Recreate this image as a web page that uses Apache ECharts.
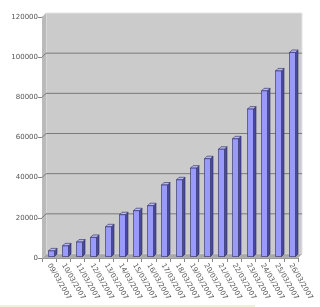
<!DOCTYPE html>
<html><head><meta charset="utf-8">
<script src="https://cdn.jsdelivr.net/npm/echarts@6/dist/echarts.min.js"></script>
<style>html,body{margin:0;padding:0;background:#fff}#c{width:320px;height:307px}</style>
</head><body><div id="c"></div>
<script>
const categories = ['09/03/2007','10/03/2007','11/03/2007','12/03/2007','13/03/2007','14/03/2007','15/03/2007','16/03/2007','17/03/2007','18/03/2007','19/03/2007','20/03/2007','21/03/2007','22/03/2007','23/03/2007','24/03/2007','25/03/2007','26/03/2007'];
const values = [2800, 5300, 7200, 9500, 14800, 20800, 22800, 25300, 35600, 38200, 44000, 48700, 53400, 58600, 73400, 82500, 92400, 101600];
const yTicks = [0, 20000, 40000, 60000, 80000, 100000, 120000];

const D = 4; // depth offset (px)
const chart = echarts.init(document.getElementById('c'), null, {renderer:'canvas'});
const font = 'DejaVu Sans';

function wallsRender(params, api) {
  const cs = params.coordSys;
  const x0 = cs.x, x1 = cs.x + cs.width, y0 = cs.y, y1 = cs.y + cs.height;
  const ch = [];
  ch.push({type:'polygon', shape:{points:[[x0+D,y0-D],[x1+D,y0-D],[x1+D,y1-D],[x0+D,y1-D]]}, style:{fill:'#cbcbcb', stroke:'#e4e4e4', lineWidth:1}});
  ch.push({type:'polygon', shape:{points:[[x0,y0],[x0+D,y0-D],[x0+D,y1-D],[x0,y1]]}, style:{fill:'#bababa'}});
  ch.push({type:'polygon', shape:{points:[[x0,y1],[x0+D,y1-D],[x1+D,y1-D],[x1,y1]]}, style:{fill:'#a8a8a8', stroke:'#c8c8c8', lineWidth:0.5}});
  yTicks.forEach(v => {
    if (v === 0 || v === 120000) return;
    const y = api.coord([0, v])[1];
    ch.push({type:'polyline', shape:{points:[[x0,y],[x0+D,y-D],[x1+D,y-D]]}, style:{stroke:'#7a7a7a', lineWidth:1, fill:null}});
  });
  return {type:'group', children:ch};
}

function barRender(params, api) {
  const idx = api.value(0), val = api.value(1);
  const top = api.coord([idx, val]);
  const base = api.coord([idx, 0]);
  const cx = top[0] + 1.5, sh = D/2;
  const t = top[1] - sh + 0.5, b = base[1] - sh + 0.5;
  const hw = 3, dd = 2.5;
  const l = Math.round(cx - hw) + 0.5, r = l + 2*hw;
  return {type:'group', children:[
    {type:'polygon', shape:{points:[[r,t],[r+dd,t-dd],[r+dd,b-dd],[r,b]]}, style:{fill:'#4a4a9a', stroke:'#2a2a60', lineWidth:0.6}},
    {type:'polygon', shape:{points:[[l,t],[l+dd,t-dd],[r+dd,t-dd],[r,t]]}, style:{fill:'#b8b8f0', stroke:'#2a2a60', lineWidth:0.6}},
    {type:'rect', shape:{x:l, y:t, width:r-l, height:b-t}, style:{fill:'#9a9afa', stroke:'#2a2a60', lineWidth:0.6}}
  ]};
}

chart.setOption({
  animation:false,
  backgroundColor:'#fff',
  grid:{left:42, right:22, top:17, bottom:49, containLabel:false},
  xAxis:{type:'category', data:categories, boundaryGap:true,
    axisLine:{show:true, lineStyle:{color:'#888', width:1}},
    axisTick:{show:true, length:4, lineStyle:{color:'#888'}},
    axisLabel:{interval:0, rotate:-60, fontSize:7, fontFamily:font, color:'#555', margin:6},
    splitLine:{show:false}},
  yAxis:{type:'value', min:0, max:120000, interval:20000,
    axisLine:{show:true, lineStyle:{color:'#888', width:1}},
    axisTick:{show:true, length:4, lineStyle:{color:'#888'}},
    axisLabel:{fontSize:7, fontFamily:font, color:'#555', margin:4, formatter:v=>String(v)},
    splitLine:{show:false}},
  series:[
    {type:'custom', renderItem:wallsRender, data:[[0,0]], silent:true, z:1, clip:false},
    {type:'custom', renderItem:barRender, data:values.map((v,i)=>[i,v]), z:3, clip:false}
  ],
  graphic:[{type:'rect', shape:{x:0,y:305,width:255,height:2}, style:{fill:'#f0f1dc'}, z:10}]
});
</script></body></html>
